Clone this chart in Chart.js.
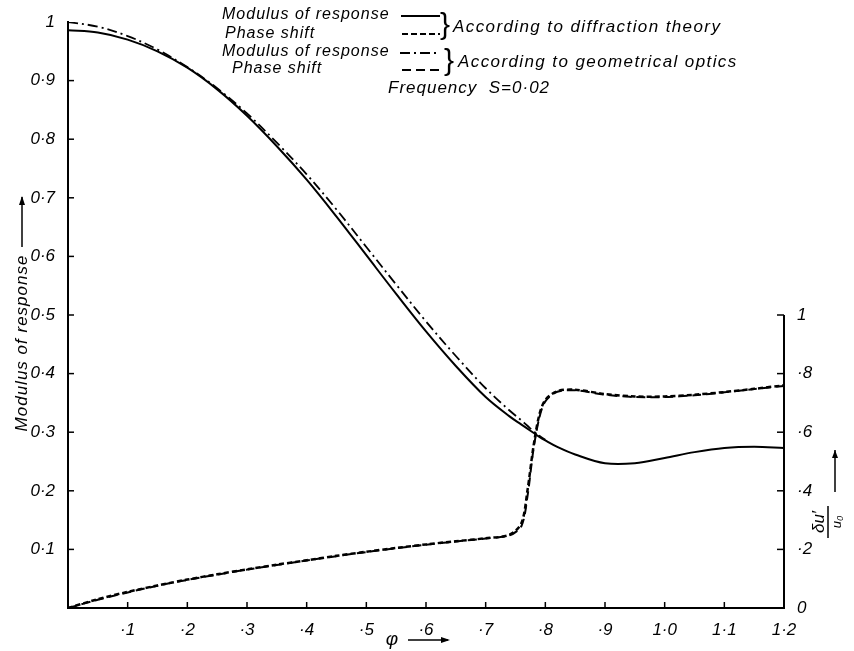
<!DOCTYPE html>
<html lang="en">
<head>
  <meta charset="UTF-8">
  <title>Modulus of response and phase shift</title>
  <script src="https://cdn.jsdelivr.net/npm/chart.js@4"></script>
  <style>
    html, body { margin: 0; padding: 0; background: #fff; }
    #wrap { width: 854px; height: 651px; }
  </style>
</head>
<body>
  <div id="wrap"><canvas id="chart" width="854" height="651"></canvas></div>
  <script>
    // phi values (x axis) shared by all curves
    const phi = [0, 0.05, 0.1, 0.15, 0.2, 0.25, 0.3, 0.35, 0.4, 0.45, 0.5, 0.55, 0.6, 0.65, 0.7,
                 0.74, 0.76, 0.77, 0.78, 0.79, 0.8, 0.82, 0.85, 0.9, 0.95, 1.0, 1.05, 1.1, 1.15, 1.2];

    // modulus of response, diffraction theory (left axis)
    const modDiffraction = [0.986, 0.982, 0.970, 0.950, 0.922, 0.885, 0.840, 0.788, 0.731, 0.668, 0.602, 0.536, 0.472, 0.413, 0.360,
                            0.327, 0.313, 0.306, 0.299, 0.292, 0.286, 0.275, 0.262, 0.247, 0.247, 0.256, 0.266, 0.273, 0.275, 0.273];
    // modulus of response, geometrical optics (left axis)
    const modGeometric = [1.0, 0.992, 0.976, 0.953, 0.923, 0.887, 0.844, 0.794, 0.740, 0.680, 0.616, 0.552, 0.489, 0.430, 0.375,
                          0.337, 0.320, 0.311, 0.302, 0.294, 0.287, null, null, null, null, null, null, null, null, null];
    // phase shift du'/u0 (right axis)
    const phaseDiffraction = [0, 0.030, 0.055, 0.077, 0.097, 0.115, 0.132, 0.148, 0.163, 0.178, 0.192, 0.205, 0.217, 0.228, 0.238,
                              0.250, 0.290, 0.400, 0.550, 0.660, 0.710, 0.740, 0.745, 0.730, 0.722, 0.722, 0.728, 0.737, 0.748, 0.760];
    const phaseGeometric = [0, 0.028, 0.053, 0.076, 0.096, 0.114, 0.131, 0.147, 0.162, 0.177, 0.191, 0.204, 0.216, 0.227, 0.237,
                            0.248, 0.280, 0.380, 0.540, 0.650, 0.705, 0.738, 0.743, 0.728, 0.720, 0.720, 0.726, 0.736, 0.747, 0.758];

    const xTickLabels = ['', '·1', '·2', '·3', '·4', '·5', '·6', '·7', '·8', '·9', '1·0', '1·1', '1·2'];
    const leftTickLabels = ['', '0·1', '0·2', '0·3', '0·4', '0·5', '0·6', '0·7', '0·8', '0·9', '1'];
    const rightTickLabels = ['0', '·2', '·4', '·6', '·8', '1'];

    const FONT = 'Liberation Sans';
    const pts = (ys) => phi.map((x, i) => ({ x: x, y: ys[i] }));

    // inward ticks, partial right axis, key and axis titles
    const annotations = {
      id: 'annotations',
      afterDraw(chart) {
        const ctx = chart.ctx;
        const { x, y, y2 } = chart.scales;
        const area = chart.chartArea;
        ctx.save();
        ctx.strokeStyle = '#000';
        ctx.fillStyle = '#000';
        ctx.lineWidth = 1.5;

        // x ticks pointing up
        for (let k = 1; k <= 12; k++) {
          const px = x.getPixelForValue(k / 10);
          ctx.beginPath(); ctx.moveTo(px, area.bottom); ctx.lineTo(px, area.bottom - 6); ctx.stroke();
        }
        // left ticks pointing right
        for (let k = 1; k <= 9; k++) {
          const py = y.getPixelForValue(k / 10);
          ctx.beginPath(); ctx.moveTo(area.left, py); ctx.lineTo(area.left + 6, py); ctx.stroke();
        }
        // right axis line from 0 to 1 with ticks pointing left
        ctx.lineWidth = 2;
        ctx.beginPath();
        ctx.moveTo(area.right, y2.getPixelForValue(0));
        ctx.lineTo(area.right, y2.getPixelForValue(1));
        ctx.stroke();
        ctx.lineWidth = 1.5;
        for (let k = 1; k <= 5; k++) {
          const py = y2.getPixelForValue(k * 0.2);
          ctx.beginPath(); ctx.moveTo(area.right, py); ctx.lineTo(area.right - 7, py); ctx.stroke();
        }

        // key
        ctx.textBaseline = 'middle';
        ctx.textAlign = 'left';
        const sample = (x1, x2, yy, dash) => {
          ctx.save();
          ctx.lineWidth = 2;
          ctx.setLineDash(dash);
          ctx.beginPath(); ctx.moveTo(x1, yy); ctx.lineTo(x2, yy); ctx.stroke();
          ctx.restore();
        };
        ctx.font = 'italic 16px ' + FONT;
        ctx.letterSpacing = '1px';
        ctx.fillText('Modulus of response', 222, 15);
        ctx.fillText('Phase shift', 225, 34);
        ctx.fillText('Modulus of response', 222, 52);
        ctx.fillText('Phase shift', 232, 69);
        sample(401, 440, 16, []);
        sample(402, 440, 34, [6, 3]);
        sample(400, 440, 53, [10, 4, 2, 4]);
        sample(402, 440, 70, [9, 5]);
        ctx.font = 'italic 17px ' + FONT;
        ctx.letterSpacing = '1.4px';
        ctx.fillText('According to diffraction theory', 453, 27);
        ctx.fillText('According to geometrical optics', 458, 62);
        ctx.letterSpacing = '1px';
        ctx.fillText('Frequency  S=0·02', 388, 88);
        ctx.letterSpacing = '0px';
        ctx.font = '30px ' + FONT;
        ctx.fillText('}', 440, 26);
        ctx.fillText('}', 444, 62);

        // left axis title
        ctx.save();
        ctx.translate(22, 343);
        ctx.rotate(-Math.PI / 2);
        ctx.font = 'italic 17px ' + FONT;
        ctx.letterSpacing = '1px';
        ctx.textAlign = 'center';
        ctx.fillText('Modulus of response', 0, 0);
        ctx.letterSpacing = '0px';
        ctx.lineWidth = 1.5;
        ctx.beginPath(); ctx.moveTo(96, 0); ctx.lineTo(146, 0); ctx.stroke();
        ctx.beginPath(); ctx.moveTo(147, 0); ctx.lineTo(138, -3); ctx.lineTo(138, 3); ctx.closePath(); ctx.fill();
        ctx.restore();

        // right axis title: du'/u0 with arrow
        ctx.save();
        ctx.translate(828, 522);
        ctx.rotate(-Math.PI / 2);
        ctx.font = 'italic 17px ' + FONT;
        ctx.textAlign = 'center';
        ctx.fillText('δu′', 0, -9);
        ctx.font = 'italic 13px ' + FONT;
        ctx.fillText('u₀', 0, 9);
        ctx.lineWidth = 1.5;
        ctx.beginPath(); ctx.moveTo(-16, 0); ctx.lineTo(16, 0); ctx.stroke();
        ctx.beginPath(); ctx.moveTo(30, 7); ctx.lineTo(72, 7); ctx.stroke();
        ctx.beginPath(); ctx.moveTo(72, 7); ctx.lineTo(64, 4); ctx.lineTo(64, 10); ctx.closePath(); ctx.fill();
        ctx.restore();

        // x axis title
        ctx.font = 'italic 19px ' + FONT;
        ctx.textAlign = 'center';
        ctx.fillText('φ', 392, 640);
        ctx.lineWidth = 1.5;
        ctx.beginPath(); ctx.moveTo(408, 640); ctx.lineTo(448, 640); ctx.stroke();
        ctx.beginPath(); ctx.moveTo(450, 640); ctx.lineTo(441, 637); ctx.lineTo(441, 643); ctx.closePath(); ctx.fill();

        ctx.restore();
      }
    };

    const tickFont = { family: FONT, size: 17, style: 'italic' };

    new Chart(document.getElementById('chart'), {
      type: 'line',
      data: {
        datasets: [
          { label: 'Modulus of response (diffraction)', data: pts(modDiffraction), yAxisID: 'y',
            borderColor: '#000', borderWidth: 2, pointRadius: 0, tension: 0.35, fill: false },
          { label: 'Modulus of response (geometrical)', data: pts(modGeometric), yAxisID: 'y',
            borderColor: '#000', borderWidth: 1.8, borderDash: [10, 4, 2, 4], pointRadius: 0, tension: 0.35, fill: false },
          { label: 'Phase shift (diffraction)', data: pts(phaseDiffraction), yAxisID: 'y2',
            borderColor: '#000', borderWidth: 2.5, borderDash: [5, 3], pointRadius: 0, tension: 0.3, fill: false },
          { label: 'Phase shift (geometrical)', data: pts(phaseGeometric), yAxisID: 'y2',
            borderColor: '#000', borderWidth: 2, borderDash: [9, 5], pointRadius: 0, tension: 0.3, fill: false }
        ]
      },
      options: {
        responsive: false,
        animation: false,
        layout: { padding: { top: 22, left: 0, right: 0, bottom: 0 } },
        plugins: { legend: { display: false }, tooltip: { enabled: false } },
        scales: {
          x: {
            type: 'linear', min: 0, max: 1.2,
            afterFit: (s) => { s.height = 43; },
            grid: { display: false },
            border: { display: true, color: '#000', width: 2 },
            ticks: {
              stepSize: 0.1, autoSkip: false, maxRotation: 0, padding: 4, color: '#000', font: tickFont,
              callback: (v) => xTickLabels[Math.round(v * 10)] || ''
            }
          },
          y: {
            position: 'left', min: 0, max: 1,
            afterFit: (s) => { s.width = 68; },
            grid: { display: false },
            border: { display: true, color: '#000', width: 2 },
            ticks: {
              stepSize: 0.1, autoSkip: false, padding: 5, color: '#000', font: tickFont,
              callback: (v) => leftTickLabels[Math.round(v * 10)] || ''
            }
          },
          y2: {
            position: 'right', min: 0, max: 2,
            afterFit: (s) => { s.width = 70; },
            grid: { display: false },
            border: { display: false },
            ticks: {
              stepSize: 0.2, autoSkip: false, padding: 5, color: '#000', font: tickFont,
              callback: (v) => rightTickLabels[Math.round(v * 5)] || ''
            }
          }
        }
      },
      plugins: [annotations]
    });
  </script>
</body>
</html>
